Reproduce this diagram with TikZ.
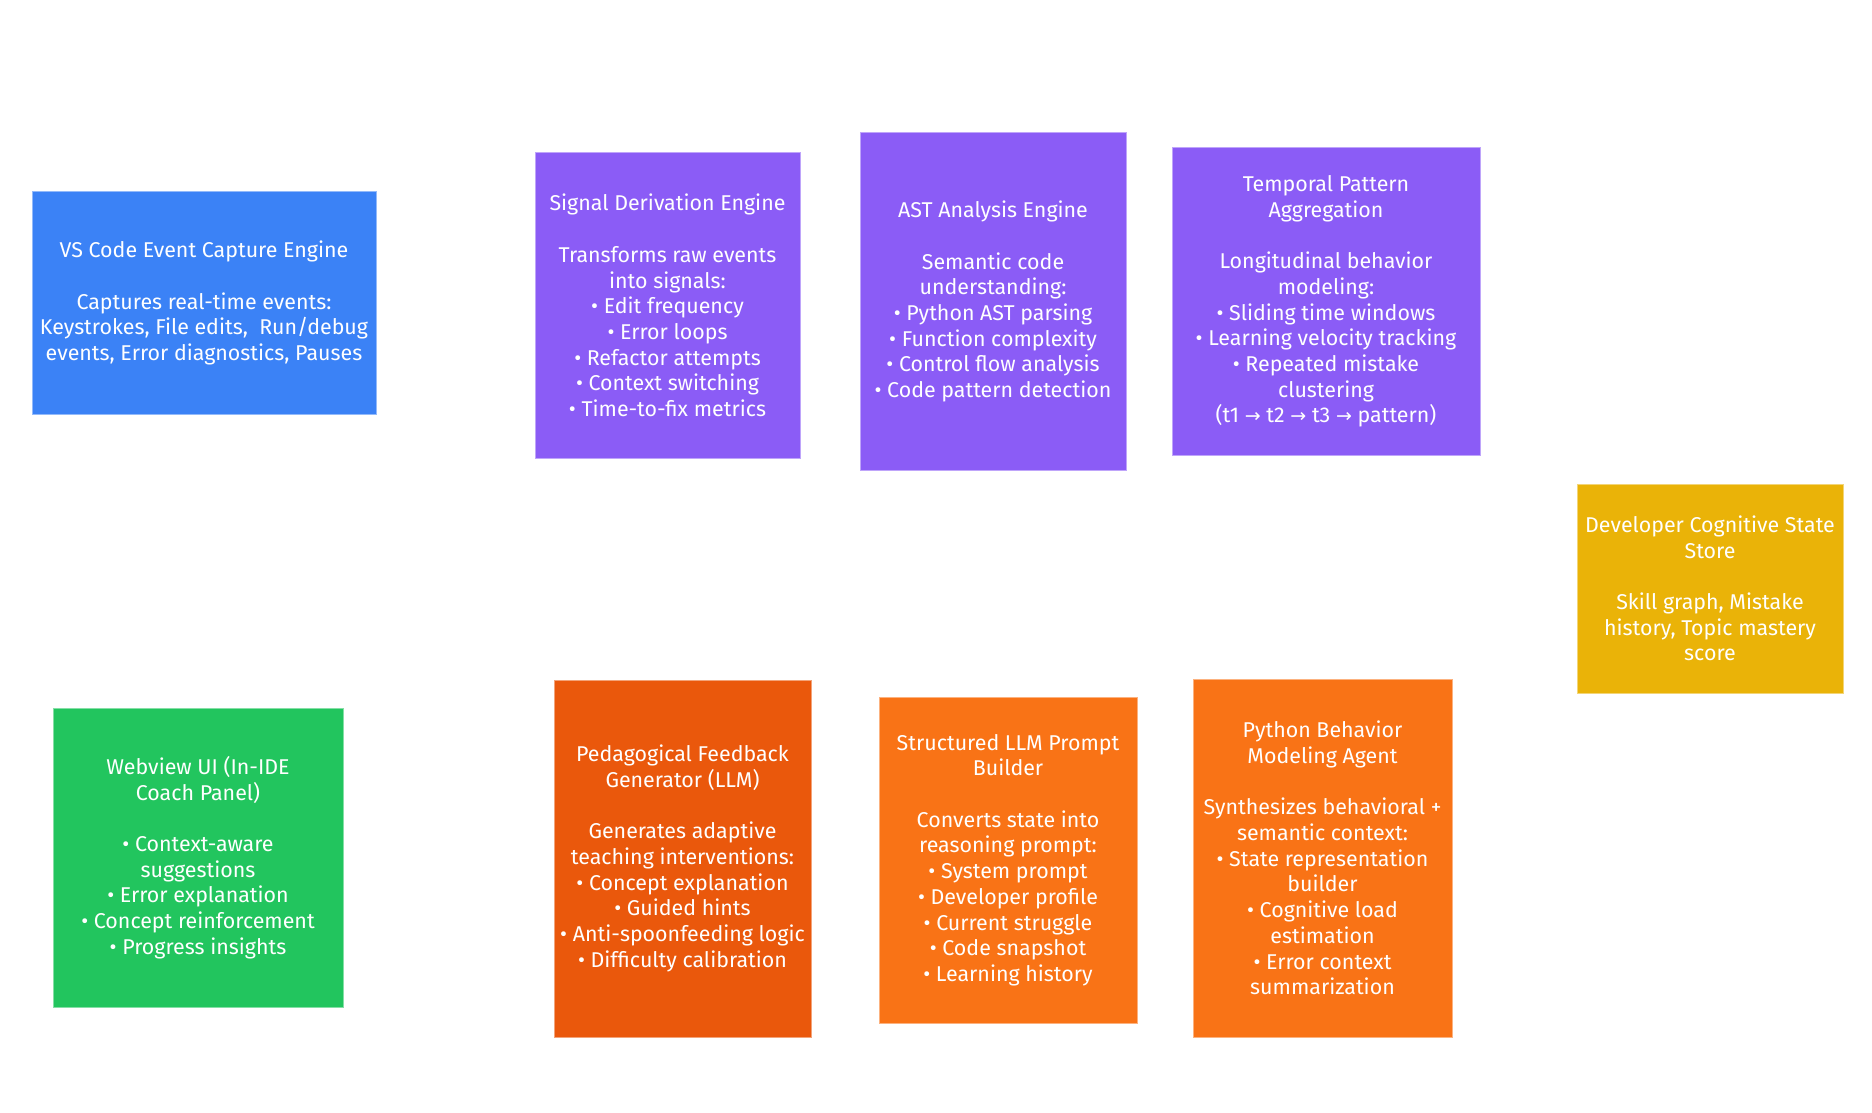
\documentclass[tikz,border=0pt]{standalone}
\usepackage{fontspec}
\setmainfont{Fira Sans}
\newfontfamily\arrowfont{DejaVu Sans}
\definecolor{cblue}{HTML}{3B82F6}
\definecolor{cpurple}{HTML}{8B5CF6}
\definecolor{cyellow}{HTML}{EAB308}
\definecolor{cgreen}{HTML}{22C55E}
\definecolor{cdorange}{HTML}{EA580C}
\definecolor{corange}{HTML}{F97316}
\newcommand{\ar}{{\arrowfont\fontsize{19}{25.7}\selectfont →}}
\begin{document}
\begin{tikzpicture}[x=1pt,y=-1pt,
  card/.style={rectangle, fill=#1, draw=#1!55, line width=1pt, inner sep=0pt,
    text=white, align=center, font=\fontsize{21.4}{25.7}\selectfont}]
\useasboundingbox[fill=white] (0,0) rectangle (1872,1113);

\node[card=cblue, minimum width=344pt, minimum height=223pt] (capture) at (204,303)
 {VS Code Event Capture Engine\\[25.7pt]
  Captures real-time events:\\
  Keystrokes, File edits,\ \ Run/debug\\
  events, Error diagnostics, Pauses};

\node[card=cpurple, minimum width=265pt, minimum height=305pt] (signal) at (667.5,305.5)
 {Signal Derivation Engine\\[25.7pt]
  Transforms raw events\\
  into signals:\\
  • Edit frequency\\
  • Error loops\\
  • Refactor attempts\\
  • Context switching\\
  • Time-to-fix metrics};

\node[card=cpurple, minimum width=266pt, minimum height=337pt] (ast) at (993,301.5)
 {AST Analysis Engine\\[25.7pt]
  Semantic code\\
  understanding:\\
  • Python AST parsing\\
  • Function complexity\\
  • Control flow analysis\\
  • Code pattern detection};

\node[card=cpurple, minimum width=308pt, minimum height=307pt] (temporal) at (1326,301.5)
 {Temporal Pattern\\
  Aggregation\\[25.7pt]
  Longitudinal behavior\\
  modeling:\\
  • Sliding time windows\\
  • Learning velocity tracking\\
  • Repeated mistake\\
  clustering\\
  (t1 \ar{} t2 \ar{} t3 \ar{} pattern)};

\node[card=cyellow, minimum width=266pt, minimum height=209pt] (store) at (1710,588.5)
 {Developer Cognitive State\\
  Store\\[25.7pt]
  Skill graph, Mistake\\
  history, Topic mastery\\
  score};

\node[card=cgreen, minimum width=290pt, minimum height=299pt] (webview) at (198,857.5)
 {Webview UI (In-IDE\\
  Coach Panel)\\[25.7pt]
  • Context-aware\\
  suggestions\\
  • Error explanation\\
  • Concept reinforcement\\
  • Progress insights};

\node[card=cdorange, minimum width=257pt, minimum height=357pt] (feedback) at (682.5,858.5)
 {Pedagogical Feedback\\
  Generator (LLM)\\[25.7pt]
  Generates adaptive\\
  teaching interventions:\\
  • Concept explanation\\
  • Guided hints\\
  • Anti-spoonfeeding logic\\
  • Difficulty calibration};

\node[card=corange, minimum width=258pt, minimum height=326pt] (prompt) at (1008,860)
 {Structured LLM Prompt\\
  Builder\\[25.7pt]
  Converts state into\\
  reasoning prompt:\\
  • System prompt\\
  • Developer profile\\
  • Current struggle\\
  • Code snapshot\\
  • Learning history};

\node[card=corange, minimum width=259pt, minimum height=358pt] (agent) at (1322.5,858)
 {Python Behavior\\
  Modeling Agent\\[25.7pt]
  Synthesizes behavioral +\\
  semantic context:\\
  • State representation\\
  builder\\
  • Cognitive load\\
  estimation\\
  • Error context\\
  summarization};
\end{tikzpicture}
\end{document}
